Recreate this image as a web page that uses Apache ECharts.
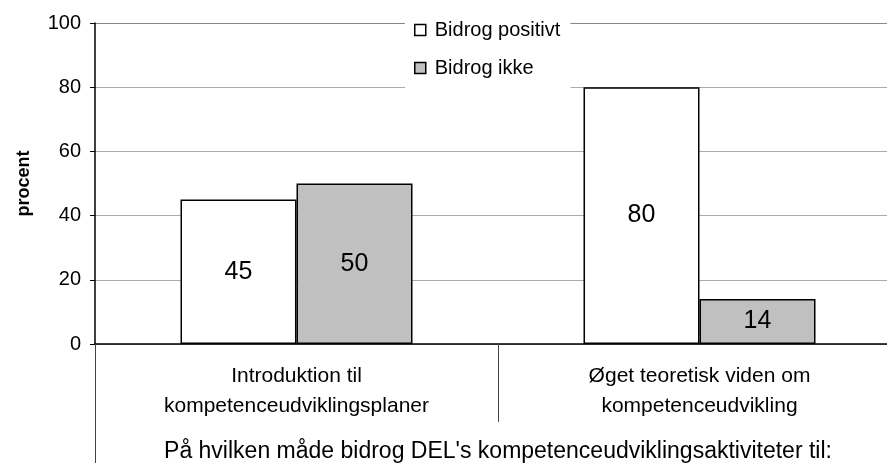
<!DOCTYPE html>
<html>
<head>
<meta charset="utf-8">
<script src="https://cdn.jsdelivr.net/npm/echarts@6/dist/echarts.min.js"></script>
<style>
    html, body {margin: 0; padding: 0; background: #fff; overflow: hidden;}
    /* 图比窗口宽，第二个分类右侧被截掉 */
    #chart {width: 901px; height: 463px;}
</style>
</head>
<body>
<div id="chart"></div>
<script>
// 数据
var categories = ['Introduktion til\nkompetenceudviklingsplaner', 'Øget teoretisk viden om\nkompetenceudvikling'];
var outerLabel = ["På hvilken måde bidrog DEL's kompetenceudviklingsaktiviteter til:"];
var seriesNames = ['Bidrog positivt', 'Bidrog ikke'];
var positiveValues = [45, 80];
var notValues = [50, 14];
var yAxisName = 'procent';

var font = 'Liberation Sans, Arial, sans-serif';

var chart = echarts.init(document.getElementById('chart'));
var option = {
    animation: false,
    textStyle: {fontFamily: font},
    grid: {left: 95, top: 23, right: 0, bottom: 119, outerBoundsMode: 'none'},
    legend: {
        orient: 'vertical',
        left: 405,
        top: 8,
        padding: [12, 10, 14, 9],
        backgroundColor: '#fff',
        itemGap: 18,
        itemWidth: 11,
        itemHeight: 11,
        icon: 'rect',
        itemStyle: {borderColor: '#000', borderWidth: 1.5},
        textStyle: {fontSize: 20, color: '#000', fontFamily: font, padding: [0, 0, 0, 4]},
        data: seriesNames
    },
    xAxis: [
        {
            type: 'category',
            data: categories,
            axisLine: {lineStyle: {color: '#000', width: 1.5}},
            axisTick: {show: true, length: 78, lineStyle: {color: '#444'}},
            axisLabel: {fontSize: 21, lineHeight: 30, margin: 17, color: '#000', interval: 0}
        },
        {
            type: 'category',
            position: 'bottom',
            offset: 78,
            data: outerLabel,
            axisLine: {show: false},
            axisTick: {show: true, length: 41, lineStyle: {color: '#444'}},
            axisLabel: {fontSize: 23, margin: 18, color: '#000'}
        }
    ],
    yAxis: {
        type: 'value',
        min: 0,
        max: 100,
        interval: 20,
        name: yAxisName,
        nameLocation: 'middle',
        nameGap: 62,
        nameTextStyle: {fontSize: 18, fontWeight: 'bold', color: '#000'},
        axisLine: {show: true, lineStyle: {color: '#000', width: 1.5}},
        axisTick: {show: true, length: 5, lineStyle: {color: '#000'}},
        axisLabel: {fontSize: 20, margin: 14, color: '#000'},
        splitLine: {lineStyle: {color: ['#aaa', '#aaa', '#aaa', '#aaa', '#aaa', '#888'], width: 1.2}}
    },
    series: [
        {
            name: seriesNames[0],
            type: 'bar',
            barWidth: 116,
            barGap: '0%',
            data: positiveValues,
            itemStyle: {color: '#fff', borderColor: '#000', borderWidth: 1.5},
            label: {show: true, position: 'inside', fontSize: 25, color: '#000'}
        },
        {
            name: seriesNames[1],
            type: 'bar',
            barWidth: 116,
            barGap: '0%',
            data: notValues,
            itemStyle: {color: '#c0c0c0', borderColor: '#000', borderWidth: 1.5},
            label: {show: true, position: 'inside', fontSize: 25, color: '#000'}
        }
    ]
};
chart.setOption(option);
</script>
</body>
</html>
